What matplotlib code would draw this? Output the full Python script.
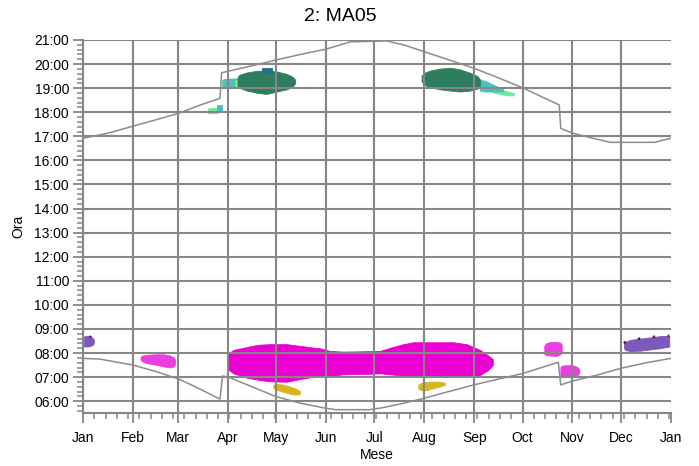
import matplotlib
matplotlib.use('Agg')
import matplotlib.pyplot as plt
from matplotlib.ticker import FixedLocator, MultipleLocator, FuncFormatter

plt.rcParams['font.family'] = ['Liberation Sans', 'DejaVu Sans']

# months (day of year at the start of each month)
month_days = [0, 31, 59, 90, 120, 151, 181, 212, 243, 273, 304, 334, 365]
month_labels = ['Jan', 'Feb', 'Mar', 'Apr', 'May', 'Jun', 'Jul',
                'Aug', 'Sep', 'Oct', 'Nov', 'Dec', 'Jan']
hour_ticks = list(range(6, 22))

# sun curves (hours)
sunset_day = [0, 15, 31, 45, 59.6, 72, 85.1, 86.1, 105, 120, 135, 151, 165.8, 188.8,
              200, 211.6, 227, 242.7, 258, 273.5, 295.8, 296.7, 304.1, 318, 327.3,
              355, 365]
sunset_hour = [16.92, 17.12, 17.42, 17.68, 17.96, 18.28, 18.58, 19.64, 19.93, 20.17,
               20.4, 20.62, 20.92, 20.96, 20.78, 20.52, 20.18, 19.83, 19.43, 19.0,
               18.3, 17.33, 17.13, 16.9, 16.75, 16.75, 16.92]
sunrise_day = [0, 10.6, 31.2, 45, 59.6, 72, 85.1, 86.7, 90.5, 105, 120, 135, 150,
               157, 178, 185, 198, 211.6, 227, 242.7, 258, 273.5, 295.2, 296.7,
               304.1, 320, 334.1, 350, 365]
sunrise_hour = [7.78, 7.75, 7.5, 7.24, 6.92, 6.53, 6.09, 7.05, 7.0, 6.6, 6.19, 5.92,
                5.72, 5.65, 5.65, 5.72, 5.9, 6.12, 6.4, 6.68, 6.92, 7.16, 7.62, 6.68,
                6.84, 7.1, 7.37, 7.6, 7.78]

# glare patches: day, start hour, end hour
green_spr_day = [96.0, 97, 101.7, 107.9, 114, 120.3, 126.5, 130, 131.7]
green_spr_lo = [19.1, 19.02, 18.9, 18.81, 18.76, 18.86, 18.95, 19.05, 19.2]
green_spr_hi = [19.45, 19.55, 19.65, 19.72, 19.73, 19.69, 19.59, 19.48, 19.36]

teal_spr_day = [86.5, 88, 92, 96.5]
teal_spr_lo = [19.08, 19.05, 19.05, 19.05]
teal_spr_hi = [19.35, 19.38, 19.4, 19.4]

lgreen_spr_day = [94.5, 97]
lgreen_spr_lo = [19.05, 19.05]
lgreen_spr_hi = [19.35, 19.35]

blue_spr_day = [111.3, 117.5]
blue_spr_lo = [19.69, 19.69]
blue_spr_hi = [19.83, 19.83]

lgreen_mar_day = [77.5, 78, 83, 83.5]
lgreen_mar_lo = [17.97, 17.96, 17.96, 17.97]
lgreen_mar_hi = [18.12, 18.16, 18.18, 18.18]

teal_mar_day = [83, 86.3]
teal_mar_lo = [18.05, 18.05]
teal_mar_hi = [18.3, 18.3]

green_aut_day = [210.3, 211.5, 215.5, 221.7, 228, 234.1, 240.4, 245, 246.6]
green_aut_lo = [19.3, 19.15, 19.04, 18.95, 18.9, 18.86, 18.9, 18.98, 19.1]
green_aut_hi = [19.52, 19.62, 19.73, 19.81, 19.85, 19.78, 19.64, 19.5, 19.35]

teal_aut_day = [246.6, 250, 254, 258, 261]
teal_aut_lo = [18.88, 18.86, 18.86, 18.86, 18.88]
teal_aut_hi = [19.36, 19.3, 19.17, 19.05, 18.98]

lgreen_aut_day = [252, 256, 260, 264, 267.5]
lgreen_aut_lo = [18.9, 18.8, 18.74, 18.7, 18.7]
lgreen_aut_hi = [19.02, 19.0, 18.93, 18.86, 18.8]

mag_day = [89.6, 93.4, 101.7, 105.8, 109.9, 116.1, 126.5, 134.8, 143, 147.2, 153.4,
           161.7, 178.2, 184.5, 190.7, 198.9, 205.1, 230, 238.3, 246.6, 251.7, 254.5]
mag_lo = [7.35, 7.16, 6.98, 6.93, 6.88, 6.83, 6.81, 6.92, 7.02, 7.02, 7.05,
          7.12, 7.14, 7.16, 7.12, 7.06, 7.03, 7.02, 7.02, 7.09, 7.3, 7.5]
mag_hi = [7.95, 8.13, 8.25, 8.31, 8.35, 8.37, 8.37, 8.3, 8.23, 8.2, 8.09,
          8.06, 8.08, 8.09, 8.22, 8.37, 8.45, 8.45, 8.37, 8.13, 7.9, 7.75]

gold_spr_day = [118.2, 120, 124, 128, 132, 134.8]
gold_spr_lo = [6.56, 6.48, 6.4, 6.32, 6.27, 6.3]
gold_spr_hi = [6.68, 6.72, 6.7, 6.62, 6.53, 6.42]

gold_aut_day = [208.3, 210, 214, 218, 222, 224.8]
gold_aut_lo = [6.52, 6.47, 6.47, 6.55, 6.62, 6.68]
gold_aut_hi = [6.68, 6.77, 6.81, 6.82, 6.81, 6.76]

pink_feb_day = [35.8, 37, 40, 45, 50, 54, 56.5, 57.3]
pink_feb_lo = [7.72, 7.65, 7.58, 7.52, 7.45, 7.4, 7.45, 7.55]
pink_feb_hi = [7.85, 7.9, 7.93, 7.95, 7.95, 7.9, 7.82, 7.7]

pink_oct_day = [286.5, 287.5, 290, 294, 296.5, 297.3]
pink_oct_lo = [7.97, 7.92, 7.9, 7.88, 7.95, 8.02]
pink_oct_hi = [8.3, 8.4, 8.46, 8.46, 8.43, 8.35]

pink_nov_day = [296.5, 297, 300, 305, 307.5, 308.3]
pink_nov_lo = [7.0, 7.0, 7.0, 7.05, 7.1, 7.2]
pink_nov_hi = [7.4, 7.47, 7.5, 7.48, 7.4, 7.3]

purple_jan_day = [0.6, 1, 4, 6.2, 6.8]
purple_jan_lo = [8.3, 8.27, 8.28, 8.35, 8.45]
purple_jan_hi = [8.65, 8.71, 8.7, 8.62, 8.55]

purple_dec_day = [336, 337, 340, 346, 352, 358, 364.1]
purple_dec_lo = [8.2, 8.12, 8.08, 8.1, 8.15, 8.2, 8.27]
purple_dec_hi = [8.4, 8.47, 8.55, 8.6, 8.65, 8.7, 8.72]

patches = [
    (mag_day, mag_lo, mag_hi, '#ea00d0'),
    (pink_feb_day, pink_feb_lo, pink_feb_hi, '#ec3ddf'),
    (pink_oct_day, pink_oct_lo, pink_oct_hi, '#ec3ddf'),
    (pink_nov_day, pink_nov_lo, pink_nov_hi, '#ec3ddf'),
    (gold_spr_day, gold_spr_lo, gold_spr_hi, '#d6b61e'),
    (gold_aut_day, gold_aut_lo, gold_aut_hi, '#d6b61e'),
    (purple_jan_day, purple_jan_lo, purple_jan_hi, '#7d59bd'),
    (purple_dec_day, purple_dec_lo, purple_dec_hi, '#7d59bd'),
    (teal_spr_day, teal_spr_lo, teal_spr_hi, '#4cbfc0'),
    (lgreen_spr_day, lgreen_spr_lo, lgreen_spr_hi, '#8fe07a'),
    (green_spr_day, green_spr_lo, green_spr_hi, '#2f7d5f'),
    (lgreen_aut_day, lgreen_aut_lo, lgreen_aut_hi, '#6ee89c'),
    (teal_aut_day, teal_aut_lo, teal_aut_hi, '#4cbfc0'),
    (green_aut_day, green_aut_lo, green_aut_hi, '#2f7d5f'),
    (lgreen_mar_day, lgreen_mar_lo, lgreen_mar_hi, '#6ee89c'),
    (teal_mar_day, teal_mar_lo, teal_mar_hi, '#4cbfc0'),
    (blue_spr_day, blue_spr_lo, blue_spr_hi, '#236f8a'),
]

fig = plt.figure(figsize=(6.99, 4.66), dpi=100)
ax = fig.add_axes([0.1187, 0.1131, 0.8408, 0.8011])

for d, lo, hi, c in patches:
    ax.fill_between(d, lo, hi, color=c, lw=0.6, ec=c, zorder=1)

# dark red dots along the purple patch edges
ax.plot(purple_dec_day, purple_dec_hi, ls=(0, (1, 5)), color='#6a1538', lw=1.8,
        zorder=1.5)
ax.plot(purple_jan_day[-3:], purple_jan_hi[-3:], ls=(0, (1, 3)), color='#6a1538',
        lw=1.6, zorder=1.5)

grid_col = '#868686'
ax.plot(sunset_day, sunset_hour, color='#8c8c8c', lw=1.1, zorder=3)
ax.plot(sunrise_day, sunrise_hour, color='#8c8c8c', lw=1.1, zorder=3)

ax.set_xlim(0, 365)
ax.set_ylim(5.5, 21)
ax.xaxis.set_major_locator(FixedLocator(month_days))
ax.set_xticklabels(month_labels)
ax.xaxis.set_minor_locator(MultipleLocator(7))
ax.yaxis.set_major_locator(FixedLocator(hour_ticks))
ax.yaxis.set_major_formatter(FuncFormatter(lambda v, p: '%02d:00' % int(round(v))))
ax.yaxis.set_minor_locator(MultipleLocator(0.2))

ax.set_axisbelow(False)
ax.grid(True, which='major', color=grid_col, lw=1.5, zorder=2.5)
ax.xaxis.get_gridlines()[-1].set_visible(False)
for s in ['top', 'right']:
    ax.spines[s].set_visible(False)
for s in ['left', 'bottom']:
    ax.spines[s].set_color(grid_col)
    ax.spines[s].set_linewidth(1.5)
ax.tick_params(which='major', length=7, width=1.3, color=grid_col, labelsize=10)
ax.tick_params(axis='x', which='major', pad=6)
ax.tick_params(axis='y', which='major', pad=3)
ax.tick_params(which='minor', length=4, width=1.1, color=grid_col)

ax.set_xlabel('Mese', fontsize=10, labelpad=2)
ax.set_ylabel('Ora', fontsize=10, labelpad=6)
fig.text(0.487, 0.965, '2: MA05', ha='center', va='center', fontsize=14)

fig.savefig('out.png', dpi=100)
